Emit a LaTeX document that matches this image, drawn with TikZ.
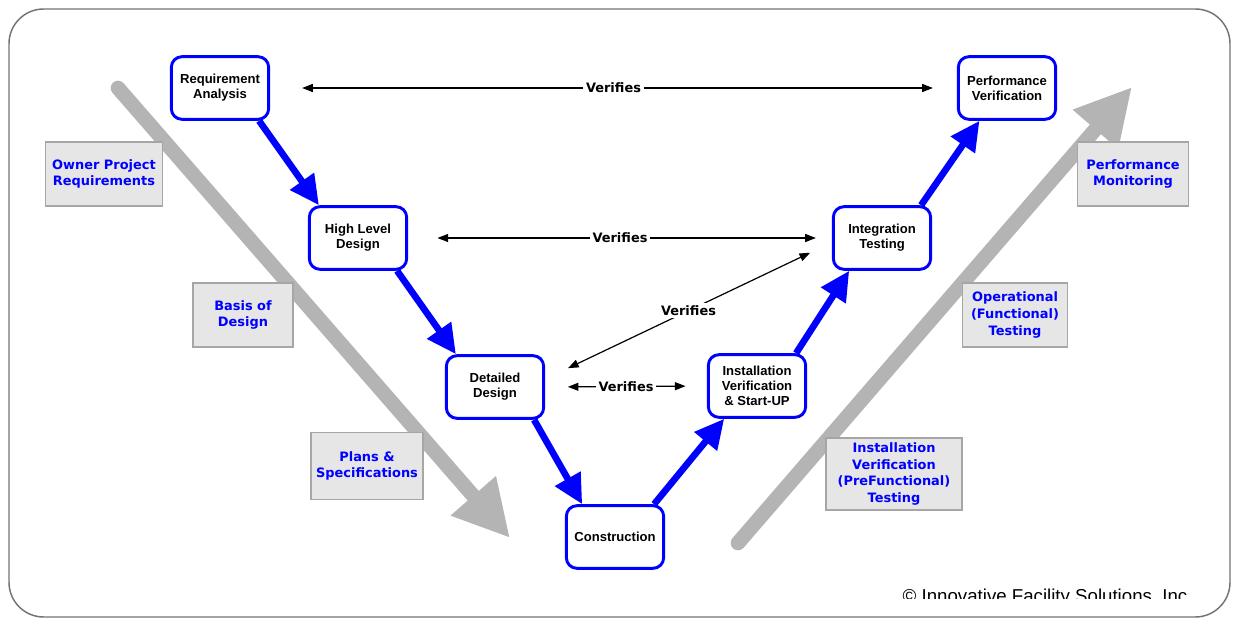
\documentclass[tikz,border=0pt]{standalone}
\usepackage{fontspec}
\setmainfont{Liberation Sans}
\newfontfamily\verdfont{DejaVu Sans}
\usetikzlibrary{arrows.meta,calc}
\definecolor{trendgray}{HTML}{B4B4B4}
\definecolor{notefill}{HTML}{E6E6E6}
\definecolor{noteline}{HTML}{A6A6A6}

\begin{document}
\begin{tikzpicture}[x=0.75pt,y=-0.75pt,
  phase/.style={draw=blue, line width=2.2pt, rounded corners=8pt, fill=white,
    minimum width=73pt, minimum height=47pt, align=center, inner sep=1pt,
    font=\bfseries\fontsize{9.8}{11.2}\selectfont},
  note/.style={draw=noteline, fill=notefill, line width=1pt, align=center,
    text=blue, minimum height=48pt, inner sep=2pt,
    font=\verdfont\bfseries\fontsize{9.7}{12.5}\selectfont},
  flow/.style={blue, line width=5pt, -{Triangle[length=22pt,width=21pt]}},
  verify/.style={line width=0.9pt,
    {Triangle[length=8pt,width=6pt]}-{Triangle[length=8pt,width=6pt]}},
  vtext/.style={fill=white, inner sep=2pt,
    font=\verdfont\bfseries\fontsize{9.7}{11}\selectfont},
  trend/.style={trendgray, line width=11pt, line cap=round,
    -{Triangle[length=42pt,width=42pt]}}]
\useasboundingbox (0,0) rectangle (1233,620);
\coordinate (Ls) at (118,88);
\coordinate (Le) at (510,538);
\coordinate (Rs) at (738,543);
\coordinate (Re) at (1132,87);

% frame
\draw[black!55, line width=1.1pt, rounded corners=26pt] (9,9) rectangle (1230,617);

% gray trend arrows
\draw[trend] (Ls) -- (Le);
\draw[trend] (Rs) -- (Re);

% side notes
\node[note, minimum width=88pt] (opr) at (104,174) {Owner Project\\Requirements};
\node[note, minimum width=75pt] (bod) at (243,315) {Basis of\\Design};
\node[note, minimum width=84pt, minimum height=50pt] (ps) at (367,466) {Plans \&\\Specifications};
\node[note, minimum width=83pt] (pm) at (1133,174) {Performance\\Monitoring};
\node[note, minimum width=79pt] (ot) at (1015,315) {Operational\\(Functional)\\Testing};
\node[note, minimum width=102pt, minimum height=54pt, inner sep=1pt] (ivt) at (894,474) {Installation\\Verification\\(PreFunctional)\\Testing};

% V phases
\node[phase] (ra) at (220,88) {Requirement\\Analysis};
\node[phase] (hld) at (358,238) {High Level\\Design};
\node[phase] (dd) at (495,387) {Detailed\\Design};
\node[phase] (con) at (615,537) {Construction};
\node[phase] (iv) at (757,386) {Installation\\Verification\\\& Start-UP};
\node[phase] (it) at (882,238) {Integration\\Testing};
\node[phase] (pv) at (1007,88) {Performance\\Verification};

\draw[flow] (ra.-40) -- (hld.140);
\draw[flow] (hld.-40) -- (dd.140);
\draw[flow] (dd.-40) -- (con.135);
\draw[flow] (con.40) -- (iv.-135);
\draw[flow] (iv.40) -- (it.-135);
\draw[flow] (it.40) -- (pv.-130);

% verification links
\draw[verify, shorten <=24pt, shorten >=18pt] (ra.east) -- node[vtext] (v1) {Verifies} (pv.west);
\draw[verify, shorten <=22pt, shorten >=12pt] (hld.east) -- node[vtext] (v2) {Verifies} (it.west);
\draw[verify, shorten <=19pt, shorten >=18pt] (dd.9) -- node[vtext] (v3) {Verifies} (it.-175);
\draw[verify, shorten <=17pt, shorten >=16pt] (dd.east) -- node[vtext] (v4) {Verifies} (iv.west);

\begin{scope}
\clip (0,0) rectangle (1233,598);
\node[anchor=base, font=\fontsize{14}{16}\selectfont, inner sep=0pt] (copy) at (1045,602) {© Innovative Facility Solutions, Inc};
\end{scope}
\end{tikzpicture}
\end{document}
